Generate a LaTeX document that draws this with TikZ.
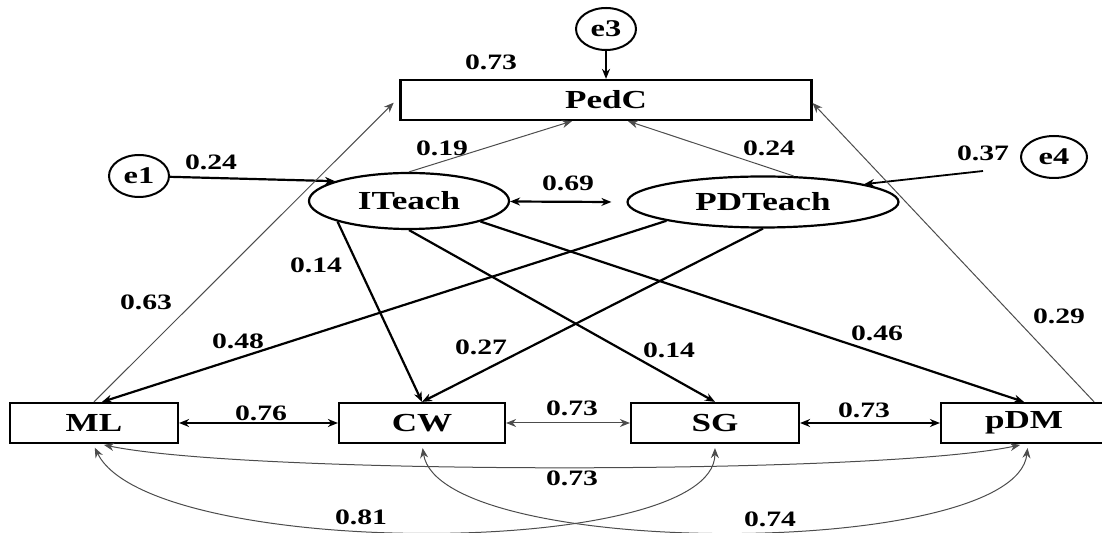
\documentclass[tikz,border=0pt]{standalone}
\usepackage{fontspec}
\setmainfont{Liberation Serif}[FakeStretch=1.35]
\usetikzlibrary{arrows.meta,shapes.geometric}

\begin{document}
\begin{tikzpicture}[
    x=0.5pt, y=-0.5pt,
    box/.style={rectangle, draw=black, line width=1.1pt, minimum width=84pt, minimum height=20pt, inner sep=0pt, font=\fontsize{13}{15}\selectfont\bfseries},
    latent/.style={ellipse, draw=black, line width=1.1pt, inner sep=0pt, font=\fontsize{13}{15}\selectfont\bfseries},
    err/.style={ellipse, draw=black, line width=1pt, minimum width=30pt, minimum height=21pt, inner sep=0pt, font=\fontsize{12}{14}\selectfont\bfseries},
    lbl/.style={inner sep=0pt, font=\fontsize{11}{13}\selectfont\bfseries},
    arrow/.style={-{Stealth[length=5pt, width=4pt]}, draw=black, line width=1.1pt},
    thinarrow/.style={-{Stealth[length=5pt, width=4pt]}, draw=black!70, line width=0.5pt},
    both/.style={{Stealth[length=5pt, width=4pt]}-{Stealth[length=5pt, width=4pt]}, draw=black, line width=1.1pt},
    thinboth/.style={{Stealth[length=5pt, width=4pt]}-{Stealth[length=5pt, width=4pt]}, draw=black!70, line width=0.5pt}
]
\useasboundingbox (0,0) rectangle (1102,533);

% outcome, latent and error nodes
\node[box, minimum width=205.5pt] (PedC) at (606,100) {PedC};
\node[err] (e3) at (606,29) {e3};
\node[err] (e1) at (139,176) {e1};
\node[err, minimum width=33pt] (e4) at (1054,157) {e4};
\node[latent, minimum width=100pt, minimum height=28pt] (ITeach) at (409,201) {ITeach};
\node[latent, minimum width=135.5pt, minimum height=25.5pt] (PDTeach) at (763,202) {PDTeach};
\node[box] (ML) at (94,423) {ML};
\node[box, minimum width=83pt] (CW) at (422,423) {CW};
\node[box] (SG) at (715,423) {SG};
\node[box, minimum width=83pt] (pDM) at (1024,423) {pDM};
\coordinate (e4out) at (983,171);

% path coefficients
\node[lbl] (lPedC) at (491,62) {0.73};
\node[lbl] (lIP) at (442,148) {0.19};
\node[lbl] (le1) at (211,162) {0.24};
\node[lbl] (lcorr) at (568,183) {0.69};
\node[lbl] (lPDP) at (769,148) {0.24};
\node[lbl] (le4) at (983,153) {0.37};
\node[lbl] (lICW) at (316,265) {0.14};
\node[lbl] (lMLP) at (146,302) {0.63};
\node[lbl] (lPDML) at (238,341) {0.48};
\node[lbl] (lPDCW) at (481,347) {0.27};
\node[lbl] (lISG) at (669,350) {0.14};
\node[lbl] (lIpDM) at (877,333) {0.46};
\node[lbl] (lpDMP) at (1059,316) {0.29};
\node[lbl] (lMLCW) at (261,413) {0.76};
\node[lbl] (lCWSG) at (572,408) {0.73};
\node[lbl] (lSGpDM) at (864,410) {0.73};
\node[lbl] (lMLpDM) at (572,478) {0.73};
\node[lbl] (lMLSG) at (361,517) {0.81};
\node[lbl] (lCWpDM) at (770,519) {0.74};

\draw[arrow] (e3) -- (PedC);
\draw[arrow] (e1) -- (ITeach.165);
\draw[arrow, line width=0.9pt] (e4out) -- (PDTeach.10);
\draw[both] (ITeach) -- ([xshift=-7.5pt]PDTeach.west);
\draw[thinarrow] (ITeach.north) -- ([xshift=-17pt]PedC.south);
\draw[thinarrow] (PDTeach.40) -- ([xshift=11pt]PedC.south);
\draw[thinarrow, shorten >=4pt] (ML.north) -- ([yshift=1.5pt]PedC.west);
\draw[thinarrow] ([xshift=-7pt]pDM.north east) -- ([yshift=-1.5pt]PedC.east);
\draw[arrow] (ITeach.south west) -- (CW.north);
\draw[arrow] (ITeach.south) -- (SG.north);
\draw[arrow] (ITeach.south east) -- (pDM.north);
\draw[arrow] (PDTeach.south west) -- ([xshift=4pt]ML.north);
\draw[arrow] (PDTeach.south) -- (CW.north);
\draw[both] (ML) -- (CW);
\draw[thinboth] (CW) -- (SG);
\draw[both] (SG) -- (pDM);

% covariances below the row
\draw[thinboth, shorten <=2pt, shorten >=2pt] ([xshift=3pt]ML.south) .. controls (250,475) and (880,475) .. (pDM.south);
\draw[thinboth, shorten <=2pt, shorten >=2pt] ([xshift=-0.5pt]ML.south) .. controls (150,560) and (714,560) .. (SG.south);
\draw[thinboth, shorten <=2pt, shorten >=2pt] (CW.south) .. controls (440,560) and (1015,560) .. ([xshift=2pt]pDM.south);
\end{tikzpicture}
\end{document}
